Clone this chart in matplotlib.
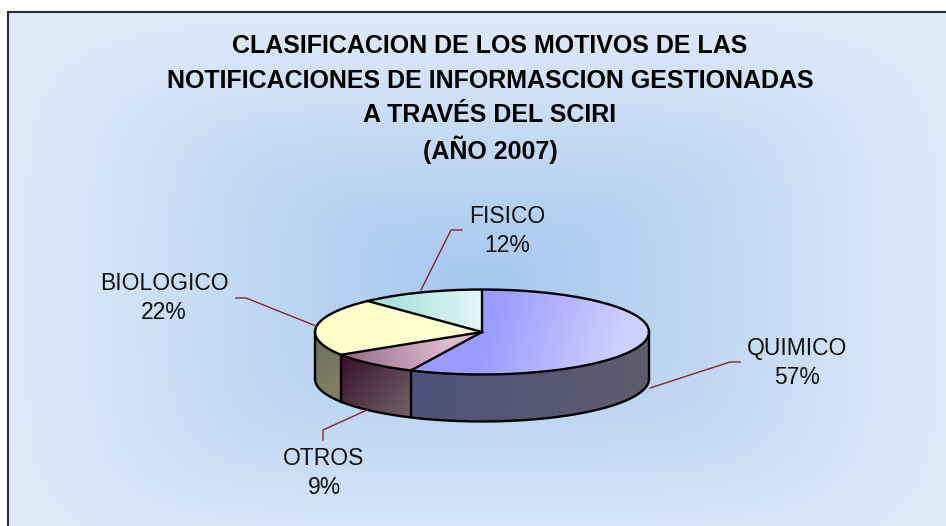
import matplotlib
matplotlib.use("Agg")
import matplotlib.pyplot as plt
import numpy as np
from matplotlib.patches import Polygon
from matplotlib.colors import to_rgb

# datos del grafico
categorias = ["QUIMICO", "OTROS", "BIOLOGICO", "FISICO"]
porcentajes = [57, 9, 22, 12]
titulo = ["CLASIFICACION DE LOS MOTIVOS DE LAS",
          "NOTIFICACIONES DE INFORMASCION GESTIONADAS",
          "A TRAVÉS DEL SCIRI",
          "(AÑO 2007)"]

plt.rcParams['font.family'] = ['Liberation Sans', 'DejaVu Sans']

W, H = 946, 526
fig = plt.figure(figsize=(W / 100, H / 100), dpi=100)
ax = fig.add_axes([0, 0, 1, 1])
ax.axis('off')

# fondo con degradado "desde el centro" (casi rectangular)
yy, xx = np.mgrid[0:H, 0:W]
dx = np.abs(xx - 480) / 470.0
dy = np.abs(yy - 290) / 280.0
t = (dx ** 5 + dy ** 5) ** (1 / 5.0)
t = np.clip(t, 0, 1)
c_in = np.array(to_rgb('#a4c7ee'))
c_out = np.array(to_rgb('#e0ebf9'))
bg = c_in + (c_out - c_in) * t[..., None]
bg[:11, :] = 1
bg[:, :7] = 1
ax.imshow(bg, extent=(0, W, H, 0), zorder=0, aspect='auto', interpolation='bilinear')
ax.plot([7.5, 7.5], [11.5, H], color='#303030', lw=1.5, zorder=1)
ax.plot([7.5, W], [11.5, 11.5], color='#303030', lw=1.5, zorder=1)

# geometria del pastel 3D
cx, cy, a, b, depth = 482, 332, 167, 42.5, 47
top_cols = [('#9c9cff', '#d0d0ff'), ('#9a6a8c', '#dcbad0'), ('#ffffc8', '#ffffd2'), ('#a6e2de', '#e6f6f8')]
top_grad = [((495, 312), (620, 350)), ((345, 362), (445, 345)), ((330, 320), (450, 330)), ((385, 300), (482, 300))]
side_cols = [('#4f517a', '#5f5d6c'), ('#3a1430', '#6e5c62'), ('#6f7060', '#7e7e62'), ('#777777', '#777777')]
side_grad = [((420, 380), (650, 400)), ((342, 362), (405, 412)), ((316, 350), (340, 380)), ((0, 0), (1, 1))]

fr = np.array(porcentajes, dtype=float) / sum(porcentajes)
bounds = 90 - 360 * np.concatenate([[0], np.cumsum(fr)])


def arc(t1, t2, n=120, dy=0):
    th = np.radians(np.linspace(t1, t2, n))
    return np.column_stack([cx + a * np.cos(th), cy - b * np.sin(th) + dy])


def grad_fill(verts, c1, c2, p1, p2, z):
    poly = Polygon(verts, closed=True, facecolor='none', edgecolor='none', zorder=z)
    ax.add_patch(poly)
    x0, y0 = verts.min(0)
    x1, y1 = verts.max(0)
    gx, gy = np.meshgrid(np.linspace(x0, x1, 200), np.linspace(y0, y1, 200))
    d = np.array(p2, float) - np.array(p1, float)
    s = ((gx - p1[0]) * d[0] + (gy - p1[1]) * d[1]) / max(d @ d, 1e-9)
    s = np.clip(s, 0, 1)
    c1 = np.array(to_rgb(c1))
    c2 = np.array(to_rgb(c2))
    img = c1 + (c2 - c1) * s[..., None]
    im = ax.imshow(img, extent=(x0, x1, y1, y0), zorder=z, aspect='auto', interpolation='bilinear')
    im.set_clip_path(poly)


# caras laterales (solo la parte frontal)
for i in range(len(porcentajes)):
    hi, lo = bounds[i], bounds[i + 1]
    for k in (-1, 0, 1):
        s1, s2 = max(lo, -180 + 360 * k), min(hi, 360 * k)
        if s2 > s1:
            top = arc(s1, s2)
            bot = arc(s2, s1, dy=depth)
            grad_fill(np.vstack([top, bot]), side_cols[i][0], side_cols[i][1],
                      side_grad[i][0], side_grad[i][1], 2)

# caras superiores
for i in range(len(porcentajes)):
    hi, lo = bounds[i], bounds[i + 1]
    verts = np.vstack([[cx, cy], arc(hi, lo)])
    grad_fill(verts, top_cols[i][0], top_cols[i][1], top_grad[i][0], top_grad[i][1], 3)

# contornos
ec, lw = 'black', 1.7
full = arc(0, 360, 400)
ax.plot(full[:, 0], full[:, 1], color=ec, lw=lw, zorder=4)
bottom = arc(-180, 0, 300, dy=depth)
ax.plot(bottom[:, 0], bottom[:, 1], color=ec, lw=lw, zorder=4)
ax.plot([cx - a, cx - a], [cy, cy + depth], color=ec, lw=lw, zorder=4)
ax.plot([cx + a, cx + a], [cy, cy + depth], color=ec, lw=lw, zorder=4)
for th in bounds[:-1]:
    r = np.radians(th)
    ex, ey = cx + a * np.cos(r), cy - b * np.sin(r)
    ax.plot([cx, ex], [cy, ey], color=ec, lw=lw, zorder=4)
    if np.sin(r) < -0.05:
        ax.plot([ex, ex], [ey, ey + depth], color=ec, lw=lw, zorder=4)

# etiquetas y lineas guia
label_pos = [(797, 363), (324, 473), (164, 298), (507, 231)]
leaders = [[(740, 362), (730, 362), (650, 388)],
           [(323, 440), (323, 430), (367, 410)],
           [(236, 298), (246, 298), (316, 326)],
           [(462, 230), (451, 230), (421, 290)]]
for i, name in enumerate(categorias):
    x, y = label_pos[i]
    ax.text(x, y - 14.5, name, ha='center', va='center', fontsize=16.5, color='#111111', zorder=6)
    ax.text(x, y + 14.5, f"{porcentajes[i]}%", ha='center', va='center', fontsize=16.5,
            color='#111111', zorder=6)
    pts = np.array(leaders[i])
    ax.plot(pts[:, 0], pts[:, 1], color='#8e2233', lw=1.0, zorder=5)

# titulo
for j, line in enumerate(titulo):
    ax.text(490, 46 + 34.5 * j, line, ha='center', va='center', fontsize=18,
            fontweight='bold', color='black', zorder=6)

ax.set_xlim(0, W)
ax.set_ylim(H, 0)
fig.savefig('out.png', dpi=100)
